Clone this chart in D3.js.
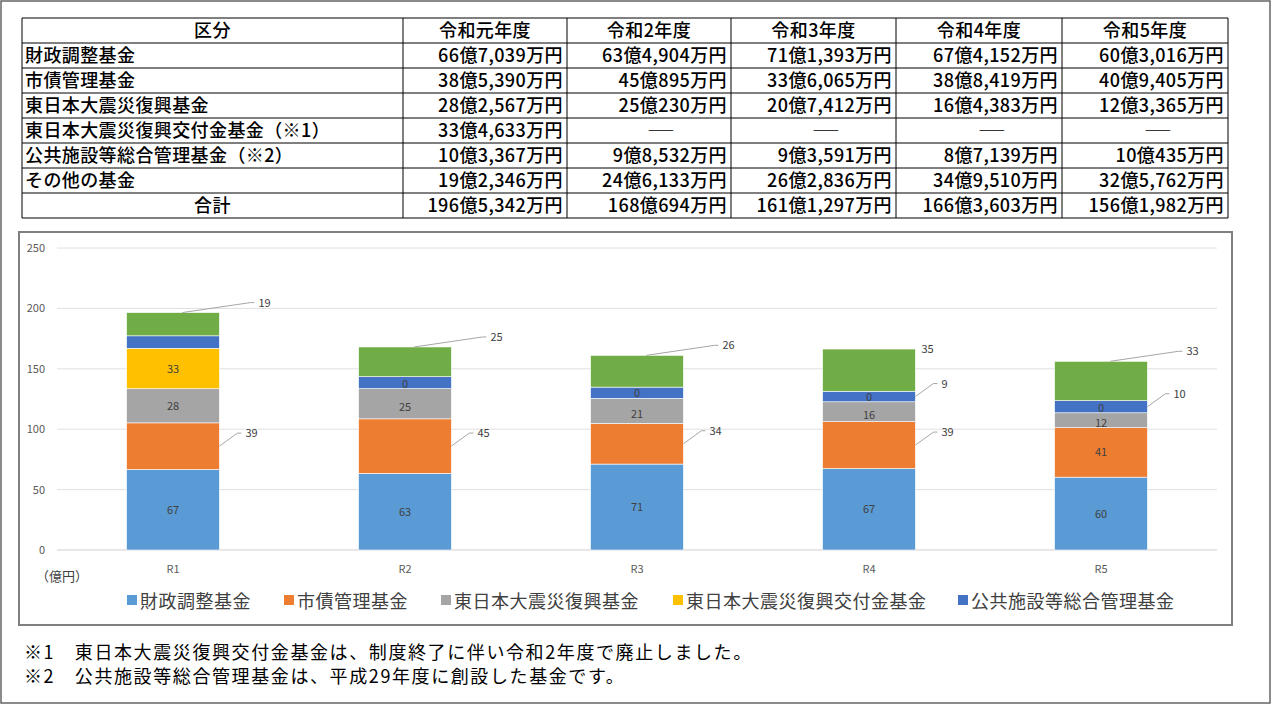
<!DOCTYPE html>
<html><head><meta charset="utf-8">
<script src="https://cdn.jsdelivr.net/npm/d3@7"></script>
<style>body{margin:0;background:#fff}svg{display:block}text{font-family:"Noto Sans CJK JP",sans-serif}</style>
</head><body><svg id="c" width="1272" height="705"></svg>
<script>
const categories=["R1","R2","R3","R4","R5"];
const seriesNames=["財政調整基金","市債管理基金","東日本大震災復興基金","東日本大震災復興交付金基金","公共施設等総合管理基金","その他の基金"];
const colors=["#5b9bd5","#ed7d31","#a5a5a5","#ffc000","#4472c4","#70ad47"];
const zaisei=[66.7039,63.4904,71.1393,67.4152,60.3016];
const shisai=[38.539,45.0895,33.6065,38.8419,40.9405];
const fukko=[28.2567,25.023,20.7412,16.4383,12.3365];
const kofukin=[33.4633,0,0,0,0];
const kokyo=[10.3367,9.8532,9.3591,8.7139,10.0435];
const sonota=[19.2346,24.6133,26.2836,34.951,32.5762];
const labelMode=[
 ["in","in","in","in","in"],
 ["out","out","out","out","in"],
 ["in","in","in","in","in"],
 ["in","in","in","in","in"],
 ["","","","out","out"],
 ["out","out","out","out","out"]];
const yTicks=[0,50,100,150,200,250];
const tableHeader=["区分","令和元年度","令和2年度","令和3年度","令和4年度","令和5年度"];
const tableRows=[
 ["財政調整基金","66億7,039万円","63億4,904万円","71億1,393万円","67億4,152万円","60億3,016万円"],
 ["市債管理基金","38億5,390万円","45億895万円","33億6,065万円","38億8,419万円","40億9,405万円"],
 ["東日本大震災復興基金","28億2,567万円","25億230万円","20億7,412万円","16億4,383万円","12億3,365万円"],
 ["東日本大震災復興交付金基金（※1）","33億4,633万円","―","―","―","―"],
 ["公共施設等総合管理基金（※2）","10億3,367万円","9億8,532万円","9億3,591万円","8億7,139万円","10億435万円"],
 ["その他の基金","19億2,346万円","24億6,133万円","26億2,836万円","34億9,510万円","32億5,762万円"],
 ["合計","196億5,342万円","168億694万円","161億1,297万円","166億3,603万円","156億1,982万円"]];
const notes=["※1　東日本大震災復興交付金基金は、制度終了に伴い令和2年度で廃止しました。","※2　公共施設等総合管理基金は、平成29年度に創設した基金です。"];

const svg=d3.select("#c");
svg.append("rect").attr("x",1).attr("y",1).attr("width",1269).attr("height",702).attr("fill","none").attr("stroke","#666").attr("stroke-width",1.5);
const colX=[22,403,567,731,896,1062,1228];
const rowH=25, ty0=18;
const allRows=[tableHeader,...tableRows];
const tg=svg.append("g");
allRows.forEach((r,i)=>{
  const y=ty0+i*rowH;
  r.forEach((t,j)=>{
    const x0=colX[j],x1=colX[j+1];
    let anchor="end",x=x1-4;
    if(i===0||(j===0&&i===allRows.length-1)){anchor="middle";x=(x0+x1)/2;}
    else if(j===0){anchor="start";x=x0+3;}
    const isDash=t==="―";
    tg.append("text").attr("x",isDash?x1-70:x).attr("y",y+rowH/2+6.5).attr("text-anchor",isDash?"middle":anchor)
      .attr("font-size",18).attr("font-weight",500).attr("letter-spacing",isDash?0:0.4).attr("fill","#000")
      .attr("transform",isDash?`translate(${x1-70},0) scale(1.6,1) translate(${-(x1-70)},0)`:null).text(t);
  });
});
for(let i=0;i<=allRows.length;i++)tg.append("line").attr("x1",colX[0]).attr("x2",colX[6]).attr("y1",ty0+i*rowH).attr("y2",ty0+i*rowH).attr("stroke","#000");
colX.forEach(x=>tg.append("line").attr("x1",x).attr("x2",x).attr("y1",ty0).attr("y2",ty0+allRows.length*rowH).attr("stroke","#000"));
svg.append("rect").attr("x",19).attr("y",232).attr("width",1213).attr("height",393).attr("fill","none").attr("stroke","#808080").attr("stroke-width",2);
const y=d3.scaleLinear().domain([0,250]).range([550,248]);
const x=d3.scaleBand().domain(categories).range([57,1217]).paddingInner(0.6).paddingOuter(0.3);
const g=svg.append("g");
yTicks.forEach(t=>{
  g.append("line").attr("x1",57).attr("x2",1217).attr("y1",y(t)).attr("y2",y(t)).attr("stroke",t===0?"#d0d0d0":"#e0e0e0");
  g.append("text").attr("x",45).attr("y",y(t)+4).attr("text-anchor","end").attr("font-size",11).attr("fill","#595959").text(t);
});
const data=categories.map((c,i)=>{const o={cat:c};[zaisei,shisai,fukko,kofukin,kokyo,sonota].forEach((a,k)=>o["s"+k]=a[i]);return o;});
const stack=d3.stack().keys(seriesNames.map((_,k)=>"s"+k))(data);
stack.forEach((layer,k)=>layer.forEach((d,i)=>{
  const bx=x(categories[i]),bw=x.bandwidth();
  if(d[1]>d[0]) g.append("rect").attr("x",bx).attr("y",y(d[1])).attr("width",bw).attr("height",y(d[0])-y(d[1])).attr("fill",colors[k]).attr("stroke","#fff").attr("stroke-width",0.6);
}));
stack.forEach((layer,k)=>layer.forEach((d,i)=>{
  const bx=x(categories[i]),bw=x.bandwidth();
  const m=labelMode[k][i]; if(!m) return;
  const v=Math.round(d[1]-d[0]);
  if(m==="in"){
    let ly=(y(d[0])+y(d[1]))/2+4;
    if(k===3&&v===0) ly=y(d[0])-1;
    if(k===2&&kofukin[i]===0) ly+=3;
    g.append("text").attr("x",bx+bw/2).attr("y",ly).attr("text-anchor","middle").attr("font-size",11).attr("fill","#404040").text(v);
  } else {
    let sx,sy,ex,ey;
    if(k===5){sx=bx+bw*0.6;sy=y(d[1]);ex=bx+bw+35;ey=sy-10;if(i===3){sx=bx+bw;ex=bx+bw+2;ey=sy;}}
    else {sx=bx+bw;sy=(y(d[0])+y(d[1]))/2;ex=bx+bw+22;ey=sy-13;}
    if(!(k===5&&i===3)) g.append("polyline").attr("points",`${sx},${sy} ${ex-4},${ey} ${ex},${ey}`).attr("fill","none").attr("stroke","#a6a6a6");
    g.append("text").attr("x",ex+4).attr("y",ey+4).attr("font-size",11).attr("fill","#404040").text(v);
  }
}));
categories.forEach(c=>g.append("text").attr("x",x(c)+x.bandwidth()/2).attr("y",573).attr("text-anchor","middle").attr("font-size",11).attr("fill","#595959").text(c));
g.append("text").attr("x",36).attr("y",581).attr("font-size",13).attr("fill","#404040").text("（億円）");
const legX=[127,284,441,673,958];
seriesNames.slice(0,5).forEach((n,k)=>{
  g.append("rect").attr("x",legX[k]).attr("y",595).attr("width",10).attr("height",10).attr("fill",colors[k]);
  g.append("text").attr("x",legX[k]+13).attr("y",608).attr("font-size",18).attr("letter-spacing",0.5).attr("fill","#404040").text(n);
});
notes.forEach((n,i)=>svg.append("text").attr("x",24).attr("y",659+i*24).attr("font-size",18).attr("letter-spacing",1.6).attr("fill","#000").text(n));
</script></body></html>
